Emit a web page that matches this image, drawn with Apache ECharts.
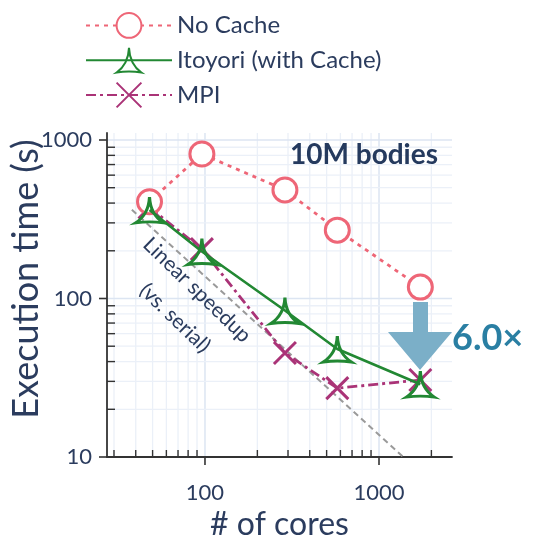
<!DOCTYPE html>
<html>
<head>
<meta charset="utf-8">
<script src="https://cdn.jsdelivr.net/npm/echarts@6/dist/echarts.min.js"></script>
<style>html,body{margin:0;padding:0;background:#fff}#c{width:534px;height:539px}</style>
</head>
<body>
<div id="c"></div>
<script>
const cores = [48, 96, 288, 576, 1728];
const noCache = [408, 816, 484, 270, 118];
const itoyori = [362, 198, 84, 48, 28.8];
const mpi = [375, 205, 45.3, 27.2, 30.6];
const linearX = [38, 1380];
const linearY = [363, 10];
const xMajorTicks = [100, 1000];
const xMinorTicks = [30, 40, 50, 60, 70, 80, 90, 200, 300, 400, 500, 600, 700, 800, 900, 2000];
const yMajorTicks = [10, 100, 1000];
const yMinorTicks = [20, 30, 40, 50, 60, 70, 80, 90, 200, 300, 400, 500, 600, 700, 800, 900];

const NAVY = '#2b3c5e';
const FONT = 'Lato';
const RED = '#EE6677', GREEN = '#228833', PURPLE = '#AA3377';

const tickData = [];
xMinorTicks.forEach(v => tickData.push([v, 100, 0]));
xMajorTicks.forEach(v => tickData.push([v, 100, 1]));
yMinorTicks.forEach(v => tickData.push([100, v, 2]));
yMajorTicks.forEach(v => tickData.push([100, v, 3]));

function isPow10(v) { const l = Math.log10(v); return Math.abs(l - Math.round(l)) < 1e-6; }

const chart = echarts.init(document.getElementById('c'), null, {renderer: 'canvas'});
const option = {
  animation: false,
  textStyle: {fontFamily: FONT, color: NAVY},
  grid: {left: 107, right: 82, top: 133, bottom: 82, containLabel: false, outerBoundsMode: 'none'},
  legend: {
    orient: 'vertical', left: 80, top: 7, itemWidth: 86, itemHeight: 31, itemGap: 8,
    textStyle: {fontFamily: FONT, fontSize: 24, color: NAVY},
    data: ['No Cache', 'Itoyori (with Cache)', 'MPI']
  },
  xAxis: {
    type: 'log', logBase: 10, min: 27.35, max: 2627,
    axisLine: {show: true, lineStyle: {color: '#333', width: 1.8}},
    axisTick: {show: false}, splitLine: {show: false}, minorTick: {show: false},
    axisLabel: {fontFamily: FONT, fontSize: 22, color: NAVY, margin: 25,
      formatter: v => isPow10(v) ? String(Math.round(v)) : ''},
    name: '# of cores', nameLocation: 'middle', nameGap: 50,
    nameTextStyle: {fontFamily: FONT, fontSize: 32, color: NAVY}
  },
  yAxis: {
    type: 'log', logBase: 10, min: 10, max: 1107,
    axisLine: {show: true, lineStyle: {color: '#333', width: 1.8}},
    axisTick: {show: false}, splitLine: {show: false}, minorTick: {show: false},
    axisLabel: {fontFamily: FONT, fontSize: 22, color: NAVY, margin: 15,
      formatter: v => isPow10(v) ? String(Math.round(v)) : ''}
  },
  graphic: [
    {type: 'text', x: 26, y: 279, rotation: Math.PI / 2, z: 100,
      style: {text: 'Execution time (s)', fontFamily: FONT, fontSize: 36, fill: NAVY, align: 'center', verticalAlign: 'middle'}},
    {type: 'text', x: 364, y: 155, z: 100,
      style: {text: '10M bodies', fontFamily: FONT, fontWeight: 'bold', fontSize: 28, fill: '#253a5e', align: 'center', verticalAlign: 'middle'}},
    {type: 'text', x: 197, y: 290, rotation: -44 * Math.PI / 180, z: 100,
      style: {text: 'Linear speedup', fontFamily: FONT, fontSize: 21, fill: NAVY, align: 'center', verticalAlign: 'middle'}},
    {type: 'text', x: 175, y: 318, rotation: -44 * Math.PI / 180, z: 100,
      style: {text: '(vs. serial)', fontFamily: FONT, fontSize: 21, fill: NAVY, align: 'center', verticalAlign: 'middle'}},
    {type: 'polygon', z: 100,
      shape: {points: [[413, 302], [428, 302], [428, 332], [452, 332], [420, 370], [388, 332], [413, 332]]},
      style: {fill: '#7bafc8'}},
    {type: 'text', x: 452, y: 338, z: 100,
      style: {text: '6.0×', fontFamily: FONT, fontWeight: 'bold', fontSize: 36, fill: '#2a7fa3', align: 'left', verticalAlign: 'middle'}}
  ],
  series: [
    {
      type: 'custom', name: 'ticks', silent: true, z: 0, clip: false,
      data: tickData,
      renderItem: function (params, api) {
        const cs = params.coordSys;
        const kind = api.value(2);
        const children = [];
        const top = cs.y, bot = cs.y + cs.height, left = cs.x, right = cs.x + cs.width;
        if (kind === 0 || kind === 1) {
          const x = api.coord([api.value(0), 100])[0];
          children.push({type: 'line', shape: {x1: x, y1: top, x2: x, y2: bot},
            style: {stroke: kind === 1 ? '#dce5f2' : '#ebf0f8', lineWidth: kind === 1 ? 1.5 : 1.3}});
          if (kind === 0) children.push({type: 'line', shape: {x1: x, y1: bot, x2: x, y2: bot - 7}, style: {stroke: '#333', lineWidth: 1.4}});
          else children.push({type: 'line', shape: {x1: x, y1: bot, x2: x, y2: bot + 8}, style: {stroke: '#333', lineWidth: 1.6}});
        } else {
          const y = api.coord([100, api.value(1)])[1];
          children.push({type: 'line', shape: {x1: left, y1: y, x2: right, y2: y},
            style: {stroke: kind === 3 ? '#dce5f2' : '#ebf0f8', lineWidth: kind === 3 ? 1.5 : 1.3}});
          if (kind === 2) children.push({type: 'line', shape: {x1: left, y1: y, x2: left + 8, y2: y}, style: {stroke: '#333', lineWidth: 1.4}});
          else children.push({type: 'line', shape: {x1: left, y1: y, x2: left - 8, y2: y}, style: {stroke: '#333', lineWidth: 1.6}});
        }
        return {type: 'group', children: children};
      }
    },
    {
      type: 'line', name: 'linear', silent: true, z: 1, showSymbol: false, symbol: 'none',
      data: linearX.map((x, i) => [x, linearY[i]]),
      lineStyle: {color: '#9a9a9a', width: 2, type: [6, 4]}
    },
    {
      type: 'line', name: 'MPI', z: 2,
      data: cores.map((x, i) => [x, mpi[i]]),
      symbol: 'path://M0,0L10,10M10,0L0,10', symbolSize: 22,
      itemStyle: {color: PURPLE, borderColor: PURPLE, borderWidth: 3},
      lineStyle: {color: PURPLE, width: 2.8, type: [10, 4, 3, 4]}
    },
    {
      type: 'line', name: 'No Cache', z: 3,
      data: cores.map((x, i) => [x, noCache[i]]),
      symbol: 'circle', symbolSize: 24,
      itemStyle: {color: '#ffffff', borderColor: RED, borderWidth: 3},
      lineStyle: {color: RED, width: 2.8, type: [4, 5]}
    },
    {
      type: 'line', name: 'Itoyori (with Cache)', z: 4,
      data: cores.map((x, i) => [x, itoyori[i]]),
      symbol: 'path://M0,-10Q0.5,0 8.66,5Q0,3.8 -8.66,5Q-0.5,0 0,-10Z', symbolSize: [28, 26],
      itemStyle: {color: 'rgba(255,255,255,0)', borderColor: GREEN, borderWidth: 3},
      lineStyle: {color: GREEN, width: 2.6}
    }
  ]
};
chart.setOption(option);
</script>
</body>
</html>
